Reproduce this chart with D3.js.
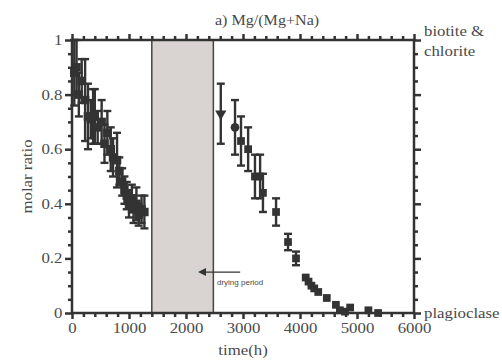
<!DOCTYPE html>
<html><head><meta charset="utf-8">
<script src="https://cdn.jsdelivr.net/npm/d3@7"></script>
<style>body{margin:0;background:#fff}svg{display:block}
text.s{font-family:"Liberation Serif","Times New Roman",serif}</style>
</head><body>
<svg id="c" width="502" height="361"></svg>
<script>
// ---- data ----
const xTicks = [0, 1000, 2000, 3000, 4000, 5000, 6000];
const yTicks = [0, 0.2, 0.4, 0.6, 0.8, 1];
const yTickLabels = ["0", "0.2", "0.4", "0.6", "0.8", "1"];
const dryingPeriod = [1400, 2480];
// before drying: time (h), molar ratio, error
const t1 = [40, 80, 120, 170, 230, 280, 330, 370, 400, 450, 520, 570, 620, 680, 720, 790, 830, 880, 920, 960, 1000, 1050, 1080, 1130, 1170, 1220, 1270];
const v1 = [0.88, 0.90, 0.80, 0.85, 0.78, 0.72, 0.71, 0.72, 0.72, 0.68, 0.70, 0.62, 0.66, 0.60, 0.57, 0.56, 0.52, 0.48, 0.45, 0.43, 0.40, 0.42, 0.38, 0.40, 0.36, 0.38, 0.37];
const e1 = [0.12, 0.10, 0.08, 0.08, 0.15, 0.12, 0.07, 0.10, 0.10, 0.06, 0.08, 0.07, 0.08, 0.08, 0.07, 0.10, 0.05, 0.05, 0.05, 0.05, 0.05, 0.05, 0.05, 0.06, 0.04, 0.05, 0.06];
// after drying
const t2 = [2610, 2860, 2965, 3090, 3210, 3300, 3350, 3580, 3790, 3930, 4100, 4150, 4200, 4250, 4320, 4470, 4630, 4700, 4790, 4880, 5200, 5370];
const v2 = [0.73, 0.68, 0.63, 0.60, 0.50, 0.50, 0.44, 0.37, 0.26, 0.20, 0.13, 0.115, 0.10, 0.09, 0.077, 0.055, 0.03, 0.01, 0.005, 0.02, 0.01, 0.0];
const e2 = [0.11, 0.10, 0.09, 0.08, 0.08, 0.08, 0.07, 0.05, 0.03, 0.025, 0, 0, 0, 0, 0, 0, 0, 0, 0, 0, 0, 0];
const shape2 = ["tri", "circle", "square", "square", "square", "square", "square", "square", "square", "square", "square", "square", "square", "square", "square", "square", "square", "square", "square", "square", "square", "square"];
const title = "a) Mg/(Mg+Na)";
const xLabel = "time(h)";
const yLabel = "molar ratio";
const rightTop = ["biotite &", "chlorite"];
const rightBottom = "plagioclase";
const arrowLabel = "drying period";
const arrowPos = {from: 2950, to: 2210, v: 0.15};

// ---- drawing ----
const svg = d3.select("#c");
const L = 72, R = 414, T = 40, B = 313;
const x = d3.scaleLinear().domain([0, 6000]).range([L, R]);
const y = d3.scaleLinear().domain([0, 1]).range([B, T]);
const dark = "#333", txt = "#4a4a4a";
const SX = 1.2;

// drying period band
svg.append("rect")
  .attr("x", x(dryingPeriod[0])).attr("y", T)
  .attr("width", x(dryingPeriod[1]) - x(dryingPeriod[0])).attr("height", B - T)
  .attr("fill", "#d9d4d2").attr("stroke", "#444").attr("stroke-width", 1.5);

// arrow
svg.append("line").attr("x1", x(arrowPos.from)).attr("x2", x(arrowPos.to) + 6)
  .attr("y1", y(arrowPos.v)).attr("y2", y(arrowPos.v)).attr("stroke", dark).attr("stroke-width", 1.3);
svg.append("path")
  .attr("d", `M${x(arrowPos.to)},${y(arrowPos.v)} l8,-4 l0,8 z`).attr("fill", dark);
svg.append("text").attr("x", x(arrowPos.to) + 19).attr("y", y(arrowPos.v) + 13)
  .style("font-family", "'Liberation Sans',Arial,sans-serif").attr("font-size", 8)
  .attr("fill", txt).text(arrowLabel);

// axes
function styleAxis(g) {
  g.select(".domain").remove();
  g.selectAll(".tick line").attr("stroke", dark).attr("stroke-width", 2.5);
}
const xMinor = d3.range(0, 6001, 200).filter(d => d % 1000 !== 0);
const yMinor = d3.range(0, 21).map(i => i * 0.05).filter(d => Math.abs(d * 5 - Math.round(d * 5)) > 1e-6);

svg.append("g").attr("transform", `translate(0,${B})`)
  .call(d3.axisBottom(x).tickValues(xMinor).tickSize(4).tickFormat("")).call(styleAxis);
const xb = svg.append("g").attr("transform", `translate(0,${B})`)
  .call(d3.axisBottom(x).tickValues(xTicks).tickSize(6).tickPadding(4).tickFormat(d => d)).call(styleAxis);
xb.selectAll("text").attr("class", "s").attr("font-size", 14).attr("fill", txt)
  .attr("transform", `scale(${SX},1)`);

svg.append("g").attr("transform", `translate(0,${T})`)
  .call(d3.axisTop(x).tickValues(xMinor).tickSize(4).tickFormat("")).call(styleAxis);
svg.append("g").attr("transform", `translate(0,${T})`)
  .call(d3.axisTop(x).tickValues(xTicks).tickSize(6).tickFormat("")).call(styleAxis);

svg.append("g").attr("transform", `translate(${L},0)`)
  .call(d3.axisLeft(y).tickValues(yMinor).tickSize(4).tickFormat("")).call(styleAxis);
const yl = svg.append("g").attr("transform", `translate(${L},0)`)
  .call(d3.axisLeft(y).tickValues(yTicks).tickSize(7).tickPadding(1).tickFormat((d, i) => yTickLabels[i])).call(styleAxis);
yl.selectAll("text").attr("class", "s").attr("font-size", 14).attr("fill", txt)
  .attr("transform", `scale(${SX},1)`);
yl.attr("font-family", null);
xb.attr("font-family", null);

svg.append("g").attr("transform", `translate(${R},0)`)
  .call(d3.axisRight(y).tickValues(yMinor).tickSize(4).tickFormat("")).call(styleAxis);
svg.append("g").attr("transform", `translate(${R},0)`)
  .call(d3.axisRight(y).tickValues(yTicks).tickSize(7).tickFormat("")).call(styleAxis);

// frame
svg.append("rect").attr("x", L).attr("y", T).attr("width", R - L).attr("height", B - T)
  .attr("fill", "none").attr("stroke", dark).attr("stroke-width", 2.5);

// data
function drawSeries(ts, vs, es, shapes, msize) {
  const g = svg.append("g");
  ts.forEach((t, i) => {
    const cx = x(t), cy = y(vs[i]), e = es[i];
    if (e > 0) {
      g.append("line").attr("x1", cx).attr("x2", cx).attr("y1", y(vs[i] + e)).attr("y2", y(vs[i] - e))
        .attr("stroke", dark).attr("stroke-width", 2.4);
      [vs[i] + e, vs[i] - e].forEach(vv => g.append("line").attr("x1", cx - 4).attr("x2", cx + 4)
        .attr("y1", y(vv)).attr("y2", y(vv)).attr("stroke", dark).attr("stroke-width", 2.4));
    }
    const sh = shapes ? shapes[i] : "square";
    const type = sh === "circle" ? d3.symbolCircle : sh === "tri" ? d3.symbolTriangle : d3.symbolSquare;
    g.append("path").attr("d", d3.symbol().type(type).size(sh === "tri" ? 55 : msize)())
      .attr("transform", `translate(${cx},${cy})` + (sh === "tri" ? " rotate(180)" : ""))
      .attr("fill", dark);
  });
}
drawSeries(t1, v1, e1, null, 72);
drawSeries(t2, v2, e2, shape2, 60);

// labels
function stretchedText(xp, yp, s, anchor, size, sx) {
  svg.append("text").attr("class", "s").attr("transform", `translate(${xp},${yp}) scale(${sx || SX},1)`)
    .attr("text-anchor", anchor).attr("font-size", size)
    .attr("fill", txt).text(s);
}
stretchedText(267, 25, title, "middle", 14, 1.15);
stretchedText(424, 36, rightTop[0], "start", 14);
stretchedText(424, 56, rightTop[1], "start", 14);
stretchedText(424, 318, rightBottom, "start", 14);
stretchedText(243, 355, xLabel, "middle", 14);
svg.append("text").attr("class", "s").attr("transform", `translate(32,${(T + B) / 2}) rotate(-90) scale(${SX},1)`)
  .attr("text-anchor", "middle").attr("font-size", 14)
  .attr("fill", txt).text(yLabel);
</script>
</body></html>
